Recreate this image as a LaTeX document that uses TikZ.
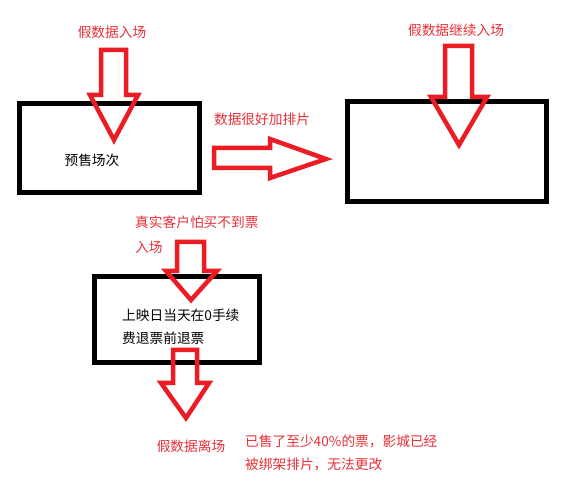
\documentclass[tikz,border=0pt]{standalone}
\usepackage{fontspec}
\setmainfont{Noto Sans CJK SC}
\definecolor{arrred}{RGB}{236,28,36}
\definecolor{txtred}{RGB}{232,48,56}
\tikzset{
  box/.style={draw=black, line width=5pt, inner sep=0pt, fill=none},
  blockarrow/.style={draw=arrred, line width=4.5pt, line join=miter, miter limit=10},
  redtxt/.style={text=txtred, font=\fontsize{13.7}{15}\selectfont, inner sep=0pt},
  blacktxt/.style={text=black, font=\fontsize{13.7}{15}\selectfont, inner sep=0pt},
}
\begin{document}
\begin{tikzpicture}[x=1pt, y=-1pt]
\useasboundingbox (0,0) rectangle (568,486);
\fill[white] (0,0) rectangle (568,486);

% boxes
\node[box, minimum width=180pt, minimum height=89pt] (b1) at (109,148.5) {};
\node[box, minimum width=199pt, minimum height=100pt] (b2) at (447,151.5) {};
\node[box, minimum width=165pt, minimum height=86pt] (b3) at (177,319.5) {};

% texts
\node[redtxt] (t1) at (112,32) {假数据入场};
\node[redtxt] (t2) at (456,30) {假数据继续入场};
\node[redtxt] (t3) at (262,119) {数据很好加排片};
\node[blacktxt] (t4) at (92,160) {预售场次};
\node[redtxt, anchor=west] (t5) at (135,222) {真实客户怕买不到票};
\node[redtxt, anchor=west] (t6) at (135,247) {入场};
\node[blacktxt, anchor=west] (t7) at (122,315) {上映日当天在0手续};
\node[blacktxt, anchor=west] (t8) at (122,338) {费退票前退票};
\node[redtxt] (t9) at (191,446) {假数据离场};
\node[redtxt, anchor=west] (t10) at (245,441) {已售了至少40\%的票，影城已经};
\node[redtxt, anchor=west] (t11) at (245,464) {被绑架排片，无法更改};

% block arrows
\draw[blockarrow] (101,50) -- (126,50) -- (126,95) -- (138,95) -- (114,140) -- (90,95) -- (101,95) -- cycle;
\draw[blockarrow] (445,46) -- (472,46) -- (472,97) -- (487,97) -- (459,145) -- (431,97) -- (445,97) -- cycle;
\draw[blockarrow] (177,242) -- (204,242) -- (204,271) -- (217,271) -- (191,300) -- (166,271) -- (177,271) -- cycle;
\draw[blockarrow] (173,350) -- (197,350) -- (197,383) -- (209,383) -- (186,418) -- (161,383) -- (173,383) -- cycle;
\draw[blockarrow] (214,148) -- (270,148) -- (270,139) -- (326,159) -- (270,178) -- (270,168) -- (214,168) -- cycle;
\end{tikzpicture}
\end{document}
